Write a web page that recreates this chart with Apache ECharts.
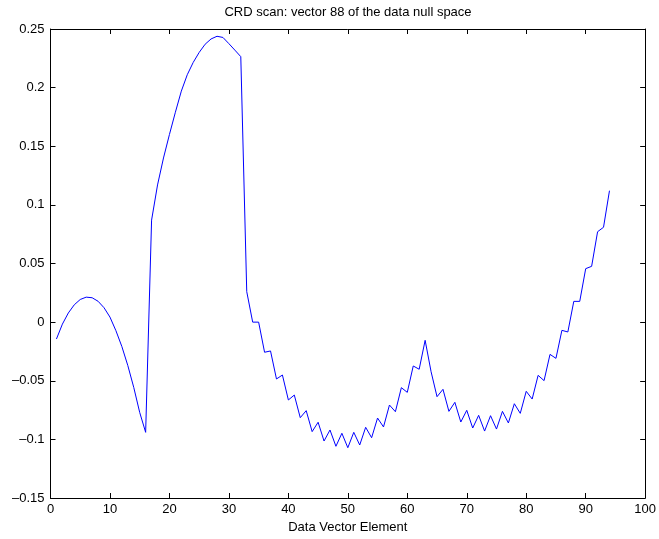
<!DOCTYPE html>
<html>
<head>
<meta charset="utf-8">
<script src="https://cdn.jsdelivr.net/npm/echarts@6/dist/echarts.min.js"></script>
<style>
html,body{margin:0;padding:0;background:#fff;}
#chart{width:659px;height:539px;}
</style>
</head>
<body>
<div id="chart"></div>
<script>
// Chart data
var titleText = 'CRD scan: vector 88 of the data null space';
var xAxisName = 'Data Vector Element';
var xTicks = [0, 10, 20, 30, 40, 50, 60, 70, 80, 90, 100];
var yTicks = [-0.15, -0.1, -0.05, 0, 0.05, 0.1, 0.15, 0.2, 0.25];
var firstElement = 1;
var values = [
  -0.0144, -0.0017, 0.0078, 0.0148, 0.0193, 0.0213, 0.0208, 0.0178, 0.0123, 0.0043,
  -0.0073, -0.0208, -0.0370, -0.0557, -0.0770, -0.0940, 0.0870, 0.1170, 0.1400, 0.1600,
  0.1790, 0.1970, 0.2110, 0.2215, 0.2300, 0.2370, 0.2415, 0.2438, 0.2428, 0.2375,
  0.2320, 0.2264, 0.0260, 0.0000, 0.0000, -0.0257, -0.0246, -0.0485, -0.0451, -0.0664,
  -0.0622, -0.0815, -0.0755, -0.0934, -0.0854, -0.1014, -0.0920, -0.1059, -0.0948, -0.1071,
  -0.0940, -0.1048, -0.0897, -0.0986, -0.0818, -0.0894, -0.0707, -0.0764, -0.0559, -0.0599,
  -0.0374, -0.0402, -0.0155, -0.0423, -0.0636, -0.0573, -0.0761, -0.0684, -0.0852, -0.0752,
  -0.0903, -0.0795, -0.0929, -0.0798, -0.0912, -0.0761, -0.0860, -0.0696, -0.0778, -0.0590,
  -0.0656, -0.0454, -0.0499, -0.0275, -0.0309, -0.0070, -0.0084, 0.0177, 0.0177, 0.0456,
  0.0476, 0.0771, 0.0809, 0.1121
];

var seriesData = values.map(function (v, i) { return [firstElement + i, v]; });

var FONT = '"Liberation Sans", Arial, Helvetica, sans-serif';
var xMin = xTicks[0], xMax = xTicks[xTicks.length - 1], xInt = xTicks[1] - xTicks[0];
var yMin = yTicks[0], yMax = yTicks[yTicks.length - 1], yInt = 0.05;

function fmtY(v) {
  var r = Math.round(v * 100) / 100;
  var s = String(Math.abs(r));
  return (r < 0 ? '\u2013' : '') + s;
}

var axisLine = { show: true, onZero: false, lineStyle: { color: '#000', width: 1 } };
var tickIn = { show: true, inside: true, length: 5, lineStyle: { color: '#000', width: 1 } };

var chart = echarts.init(document.getElementById('chart'), null, { renderer: 'canvas' });
chart.setOption({
  animation: false,
  backgroundColor: '#fff',
  grid: { left: 50.5, right: 13, top: 29, bottom: 41, containLabel: false },
  graphic: [{
    type: 'text', x: 348, y: 12,
    style: { text: titleText, fill: '#000', font: '13px ' + FONT, textAlign: 'center', textVerticalAlign: 'middle' }
  }],
  xAxis: [{
    type: 'value', position: 'bottom', min: xMin, max: xMax, interval: xInt,
    axisLine: axisLine, axisTick: tickIn, splitLine: { show: false },
    axisLabel: { color: '#000', fontFamily: FONT, fontSize: 13, margin: 5 },
    name: xAxisName, nameLocation: 'middle', nameGap: 20,
    nameTextStyle: { color: '#000', fontFamily: FONT, fontSize: 13 }
  }, {
    type: 'value', position: 'top', min: xMin, max: xMax, interval: xInt,
    axisLine: axisLine, axisTick: tickIn, splitLine: { show: false },
    axisLabel: { show: false }
  }],
  yAxis: [{
    type: 'value', position: 'left', min: yMin, max: yMax, interval: yInt,
    axisLine: axisLine, axisTick: tickIn, splitLine: { show: false },
    axisLabel: { color: '#000', fontFamily: FONT, fontSize: 13, margin: 6, formatter: fmtY }
  }, {
    type: 'value', position: 'right', min: yMin, max: yMax, interval: yInt,
    axisLine: axisLine, axisTick: tickIn, splitLine: { show: false },
    axisLabel: { show: false }
  }],
  series: [{
    type: 'line', xAxisIndex: 0, yAxisIndex: 0,
    data: seriesData, showSymbol: false, symbol: 'none',
    lineStyle: { color: '#0000ff', width: 1 }, itemStyle: { color: '#0000ff' }
  }]
});
</script>
</body>
</html>
